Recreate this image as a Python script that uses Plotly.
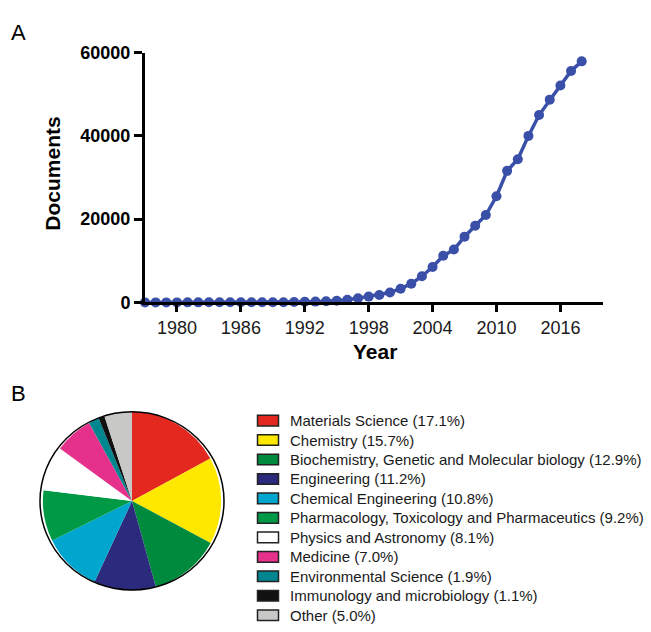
import plotly.graph_objects as go

# Documents published per year
years = list(range(1977, 2019))
documents = [
    10, 10, 15, 15, 20, 20, 25, 25, 30, 35, 40, 45, 50, 60,
    100, 150, 200, 300, 400, 650, 1000,
    1400, 1800, 2400, 3300, 4500, 6300, 8500, 11200, 12700, 15800,
    18400, 21000, 25500, 31600, 34400, 40000, 45000, 48700, 52100,
    55600, 57900,
]
x_ticks = [1980, 1986, 1992, 1998, 2004, 2010, 2016]
y_ticks = [0, 20000, 40000, 60000]

# Subject areas
subjects = [
    "Materials Science",
    "Chemistry",
    "Biochemistry, Genetic and Molecular biology",
    "Engineering",
    "Chemical Engineering",
    "Pharmacology, Toxicology and Pharmaceutics",
    "Physics and Astronomy",
    "Medicine",
    "Environmental Science",
    "Immunology and microbiology",
    "Other",
]
shares = [17.1, 15.7, 12.9, 11.2, 10.8, 9.2, 8.1, 7.0, 1.9, 1.1, 5.0]
subject_colors = [
    "#E3281F", "#FFE800", "#008A3E", "#2C2A7C", "#00A6CE", "#009A47",
    "#FFFFFF", "#E5318B", "#00868F", "#111111", "#C8C8C6",
]

W, H = 651, 632
FONT = "Arial, Liberation Sans, sans-serif"
LINE_BLUE = "rgb(58,80,168)"


def px_x(x):
    return x / W


def px_y(y):
    return 1 - y / H


fig = go.Figure()

fig.add_trace(go.Scatter(
    x=years, y=documents, mode="lines+markers",
    line=dict(color=LINE_BLUE, width=3.5),
    marker=dict(color=LINE_BLUE, size=10),
    cliponaxis=False, showlegend=False, hoverinfo="x+y",
))

# pie centre and radius in pixels
cx, cy, r = 132, 507, 92
fig.add_trace(go.Pie(
    labels=subjects, values=shares, sort=False, direction="clockwise",
    rotation=0, textinfo="none", showlegend=False,
    marker=dict(colors=subject_colors, line=dict(width=0)),
    domain=dict(x=[px_x(cx - r), px_x(cx + r)], y=[px_y(cy + r), px_y(cy - r)]),
))

shapes = [dict(
    type="circle", xref="paper", yref="paper",
    x0=px_x(cx - r), x1=px_x(cx + r), y0=px_y(cy + r), y1=px_y(cy - r),
    line=dict(color="black", width=1.5), layer="above",
)]

annotations = [
    dict(text="A", x=px_x(9), y=px_y(23), xanchor="left", yanchor="middle",
         font=dict(size=22, color="black", family=FONT)),
    dict(text="B", x=px_x(9), y=px_y(396), xanchor="left", yanchor="middle",
         font=dict(size=22, color="black", family=FONT)),
    dict(text="<b>Documents</b>", x=px_x(53), y=px_y(169), textangle=-90,
         xanchor="center", yanchor="middle",
         font=dict(size=21, color="black", family=FONT)),
    dict(text="<b>Year</b>", x=px_x(375), y=px_y(353),
         xanchor="center", yanchor="middle",
         font=dict(size=21, color="black", family=FONT)),
]

# hand-drawn legend: swatch + label for each subject
row0, row_step = 424, 20.1
for i, (name, pct, col) in enumerate(zip(subjects, shares, subject_colors)):
    yc = row0 + i * row_step
    shapes.append(dict(
        type="rect", xref="paper", yref="paper",
        x0=px_x(257.5), x1=px_x(278.5), y0=px_y(yc + 5.5), y1=px_y(yc - 5.5),
        fillcolor=col, line=dict(color="#222222", width=1.5),
    ))
    annotations.append(dict(
        text=f"{name} ({pct:.1f}%)", x=px_x(288), y=px_y(yc),
        xanchor="left", yanchor="middle",
        font=dict(size=15, color="#1a1a1a", family=FONT),
    ))

for a in annotations:
    a.update(xref="paper", yref="paper", showarrow=False)

fig.update_layout(
    width=W, height=H,
    margin=dict(l=0, r=0, t=0, b=0),
    paper_bgcolor="white", plot_bgcolor="white",
    font=dict(family=FONT, color="black"),
    shapes=shapes, annotations=annotations,
    xaxis=dict(
        domain=[px_x(145), px_x(603)], range=[1977, 2020],
        tickvals=x_ticks, ticks="outside", ticklen=7, tickwidth=3,
        tickcolor="black", showline=True, linewidth=3, linecolor="black",
        showgrid=False, zeroline=False,
        tickfont=dict(size=18, color="#1a1a1a", family=FONT),
        anchor="y",
    ),
    yaxis=dict(
        domain=[px_y(302), px_y(44)], range=[0, 60000],
        tickvals=y_ticks, tickformat="d", ticks="outside", ticklen=8,
        tickwidth=3, tickcolor="black", showline=True, linewidth=3,
        linecolor="black", showgrid=False, zeroline=False,
        tickfont=dict(size=18, color="black", family=FONT, weight="bold"),
        anchor="x",
    ),
)

fig.write_html("out.html")
